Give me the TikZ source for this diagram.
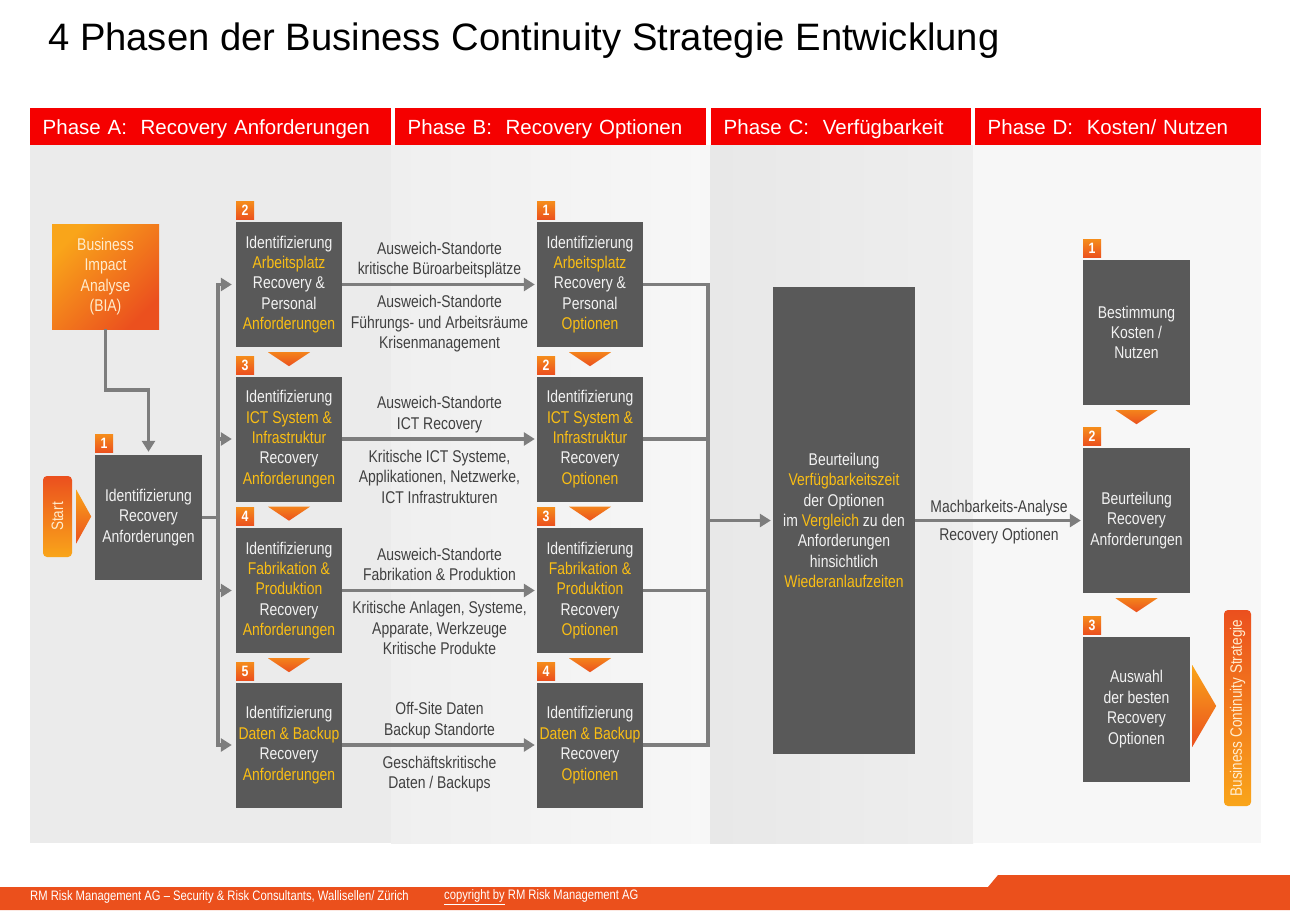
\documentclass[tikz,border=0pt]{standalone}
\usepackage{fontspec}
\setmainfont{Liberation Sans}
\newfontfamily\narrowsans{Liberation Sans}[FakeStretch=0.82]
\usetikzlibrary{positioning,calc,arrows.meta}

\definecolor{hdred}{RGB}{245,0,0}
\definecolor{boxgray}{RGB}{89,89,89}
\definecolor{hiyellow}{RGB}{250,190,20}
\definecolor{boxwhite}{RGB}{242,242,242}
\definecolor{linegray}{RGB}{125,125,125}
\definecolor{labelgray}{RGB}{64,64,64}
\definecolor{orlight}{RGB}{249,165,26}
\definecolor{ordark}{RGB}{235,80,30}
\definecolor{cream}{RGB}{255,236,205}
\definecolor{footorange}{RGB}{235,80,28}
\definecolor{bgA}{RGB}{235,235,235}
\definecolor{bgBa}{RGB}{239,239,239}
\definecolor{bgBb}{RGB}{247,247,247}
\definecolor{bgCa}{RGB}{232,232,232}
\definecolor{bgCb}{RGB}{238,238,238}
\definecolor{bgD}{RGB}{247,247,247}

\newcommand{\yel}[1]{\textcolor{hiyellow}{#1}}

\begin{document}
\begin{tikzpicture}[x=1pt, y=-1pt, >={Triangle[length=11pt, width=13pt]}, node distance=154pt, on grid,
    phasebox/.style={fill=boxgray, text=boxwhite, minimum width=106pt, minimum height=125pt, inner sep=0pt, align=center, font=\narrowsans\fontsize{17}{20.4}\selectfont},
    orangebox/.style={top color=orlight, bottom color=ordark, text=cream, inner sep=0pt, align=center, font=\narrowsans\fontsize{17}{20.4}\selectfont},
    badge/.style={top color=orlight!70!ordark, bottom color=ordark, text=white, minimum size=18pt, inner sep=0pt, anchor=south west, font=\narrowsans\bfseries\fontsize{15}{15}\selectfont},
    conn/.style={draw=linegray, line width=3.8pt},
    lbl/.style={text=labelgray, align=center, inner sep=0pt, font=\narrowsans\fontsize{17}{20.4}\selectfont},
    lblup/.style={lbl, midway, above=4pt, text depth=4pt},
    lbldown/.style={lbl, midway, below=9pt},
    head/.style={fill=hdred, text=white, anchor=north west, minimum height=37pt, inner xsep=12.5pt, inner ysep=0pt, text height=15pt, text depth=0pt, align=left, font=\fontsize{20.5}{24}\selectfont}
  ]
  \useasboundingbox (0,0) rectangle (1290,910);
  \fill[white] (0,0) rectangle (1290,910);
  \fill[bgA] (30,145) rectangle (391,843);
  \shade[left color=bgBa, right color=bgBb] (391,145) rectangle (710,843);
  \shade[left color=bgCa, right color=bgCb] (710,145) rectangle (973,843);
  \fill[bgD] (973,145) rectangle (1261,843);

  \node[anchor=base west, inner sep=0pt, font=\fontsize{38.2}{42}\selectfont] (title) at (48,50) {4 Phasen der Business Continuity Strategie Entwicklung};

  \node[head, text width=336pt] (hA) at (30,108) {Phase A:~ Recovery Anforderungen};
  \node[head, text width=286pt] (hB) at (395,108) {Phase B:~ Recovery Optionen};
  \node[head, text width=235pt] (hC) at (711,108) {Phase C:~ Verfügbarkeit};
  \node[head, text width=261pt] (hD) at (975,108) {Phase D:~ Kosten/ Nutzen};

  \node[orangebox, shading angle=45, minimum width=107pt, minimum height=105pt] (BIA) at (105.5,276.5) {Business\\Impact\\Analyse\\(BIA)};
  \node[orangebox, top color=ordark, bottom color=orlight, rounded corners=4pt, minimum width=29pt, minimum height=81pt] (start) at (57.5,516.5) {\rotatebox{90}{\fontsize{16.5}{16.5}\selectfont Start}};
  \node[phasebox, minimum width=107pt] (A1) at (148.5,517.5) {Identifizierung\\Recovery\\Anforderungen};

  \node[phasebox] (A2) at (289,284.5) {Identifizierung\\\yel{Arbeitsplatz}\\Recovery \&\\Personal\\\yel{Anforderungen}};
  \node[phasebox] (A3) [below=154.5pt of A2] {Identifizierung\\\yel{ICT System \&}\\\yel{Infrastruktur}\\Recovery\\\yel{Anforderungen}};
  \node[phasebox] (A4) [below=151.5pt of A3] {Identifizierung\\\yel{Fabrikation \&}\\\yel{Produktion}\\Recovery\\\yel{Anforderungen}};
  \node[phasebox] (A5) [below=154.5pt of A4] {Identifizierung\\\yel{Daten \& Backup}\\Recovery\\\yel{Anforderungen}};

  \node[phasebox] (B1) [right=301pt of A2] {Identifizierung\\\yel{Arbeitsplatz}\\Recovery \&\\Personal\\\yel{Optionen}};
  \node[phasebox] (B2) [right=301pt of A3] {Identifizierung\\\yel{ICT System \&}\\\yel{Infrastruktur}\\Recovery\\\yel{Optionen}};
  \node[phasebox] (B3) [right=301pt of A4] {Identifizierung\\\yel{Fabrikation \&}\\\yel{Produktion}\\Recovery\\\yel{Optionen}};
  \node[phasebox] (B4) [right=301pt of A5] {Identifizierung\\\yel{Daten \& Backup}\\Recovery\\\yel{Optionen}};

  \node[phasebox, minimum width=142pt, minimum height=467pt] (C) at (844,520.5) {Beurteilung\\\yel{Verfügbarkeitszeit}\\der Optionen\\im \yel{Vergleich} zu den\\Anforderungen\\hinsichtlich\\\yel{Wiederanlaufzeiten}};

  \node[phasebox, minimum width=107pt, minimum height=145pt] (D1) at (1136.5,332.5) {Bestimmung\\Kosten /\\Nutzen};
  \node[phasebox, minimum width=107pt, minimum height=145pt] (D2) [below=188pt of D1] {Beurteilung\\Recovery\\Anforderungen};
  \node[phasebox, minimum width=107pt, minimum height=145pt] (D3) [below=188.5pt of D2] {Auswahl\\der besten\\Recovery\\Optionen};
  \node[orangebox, top color=ordark, bottom color=orlight, rounded corners=4pt, minimum width=27pt, minimum height=196pt] (bcs) at (1237.5,708) {\rotatebox{90}{\fontsize{16.5}{16.5}\selectfont Business Continuity Strategie}};

  \foreach \nd/\num in {A1/1, A2/2, A3/3, A4/4, A5/5, B1/1, B2/2, B3/3, B4/4, D1/1, D2/2, D3/3}
    \node[badge] (n\nd) at ([yshift=2pt]\nd.north west) {\num};
  \foreach \nd in {A2, A3, A4, B1, B2, B3, D1, D2}
    \shade[top color=orlight!60!ordark, bottom color=ordark] ([shift={(-21pt,-5pt)}]\nd.south) -- ++(42pt,0pt) -- ++(-21pt,-14pt) -- cycle;
  \shade[top color=orlight, bottom color=ordark] ([shift={(4pt,27pt)}]start.east) -- ++(15pt,-27pt) -- ++(-15pt,-27pt) -- cycle;
  \shade[top color=orlight, bottom color=ordark] ([shift={(2pt,44pt)}]D3.east) -- ++(24pt,-41pt) -- ++(-24pt,-41pt) -- cycle;

  \draw[conn, ->, shorten >=3pt] (BIA.south) -- ++(0,61) -| (A1.north);
  \coordinate (splitA) at ([xshift=16pt]A1.east);
  \draw[conn] (A1.east) -- (splitA);
  \draw[conn, line cap=rect] (splitA |- A2.west) -- (splitA |- A5.west);
  \foreach \nd in {A2, A3, A4, A5}
    \draw[conn, ->, shorten >=4pt] (splitA |- \nd.west) -- (\nd.west);

  \draw[conn, ->, shorten >=2pt] (A2) -- (B1)
    node[lblup] (l1a) {Ausweich-Standorte\\kritische Büroarbeitsplätze}
    node[lbldown] (l1b) {Ausweich-Standorte\\Führungs- und Arbeitsräume\\Krisenmanagement};
  \draw[conn, ->, shorten >=2pt] (A3) -- (B2)
    node[lblup] (l2a) {Ausweich-Standorte\\ICT Recovery}
    node[lbldown] (l2b) {Kritische ICT Systeme,\\Applikationen, Netzwerke,\\ICT Infrastrukturen};
  \draw[conn, ->, shorten >=2pt] (A4) -- (B3)
    node[lblup] (l3a) {Ausweich-Standorte\\Fabrikation \& Produktion}
    node[lbldown] (l3b) {Kritische Anlagen, Systeme,\\Apparate, Werkzeuge\\Kritische Produkte};
  \draw[conn, ->, shorten >=2pt] (A5) -- (B4)
    node[lblup] (l4a) {Off-Site Daten\\Backup Standorte}
    node[lbldown] (l4b) {Geschäftskritische\\Daten / Backups};

  \coordinate (mergeB) at ([xshift=-65pt]C.west);
  \foreach \nd in {B1, B2, B3, B4}
    \draw[conn] (\nd.east) -- (mergeB |- \nd.east);
  \draw[conn, line cap=rect] (mergeB |- B1.east) -- (mergeB |- B4.east);
  \draw[conn, ->, shorten >=2pt] (mergeB) -- (C);

  \draw[conn, ->, shorten >=2pt] (C) -- (D2)
    node[lbl, midway, above=2pt, text depth=4pt] (lc1) {Machbarkeits-Analyse}
    node[lbl, midway, below=6pt] (lc2) {Recovery Optionen};

  \fill[footorange] (0,887) -- (988,887) -- (998,875) -- (1290,875) -- (1290,910) -- (0,910) -- cycle;
  \node[anchor=west, inner sep=0pt, text=white, font=\narrowsans\fontsize{13.7}{15}\selectfont] (foot) at (30,897) {RM Risk Management AG – Security \& Risk Consultants, Wallisellen/ Zürich};
  \node[anchor=west, inner sep=0pt, text=white, font=\narrowsans\fontsize{13.7}{15}\selectfont] (copy) at (444,897) {\underline{copyright by} RM Risk Management AG};
\end{tikzpicture}
\end{document}
